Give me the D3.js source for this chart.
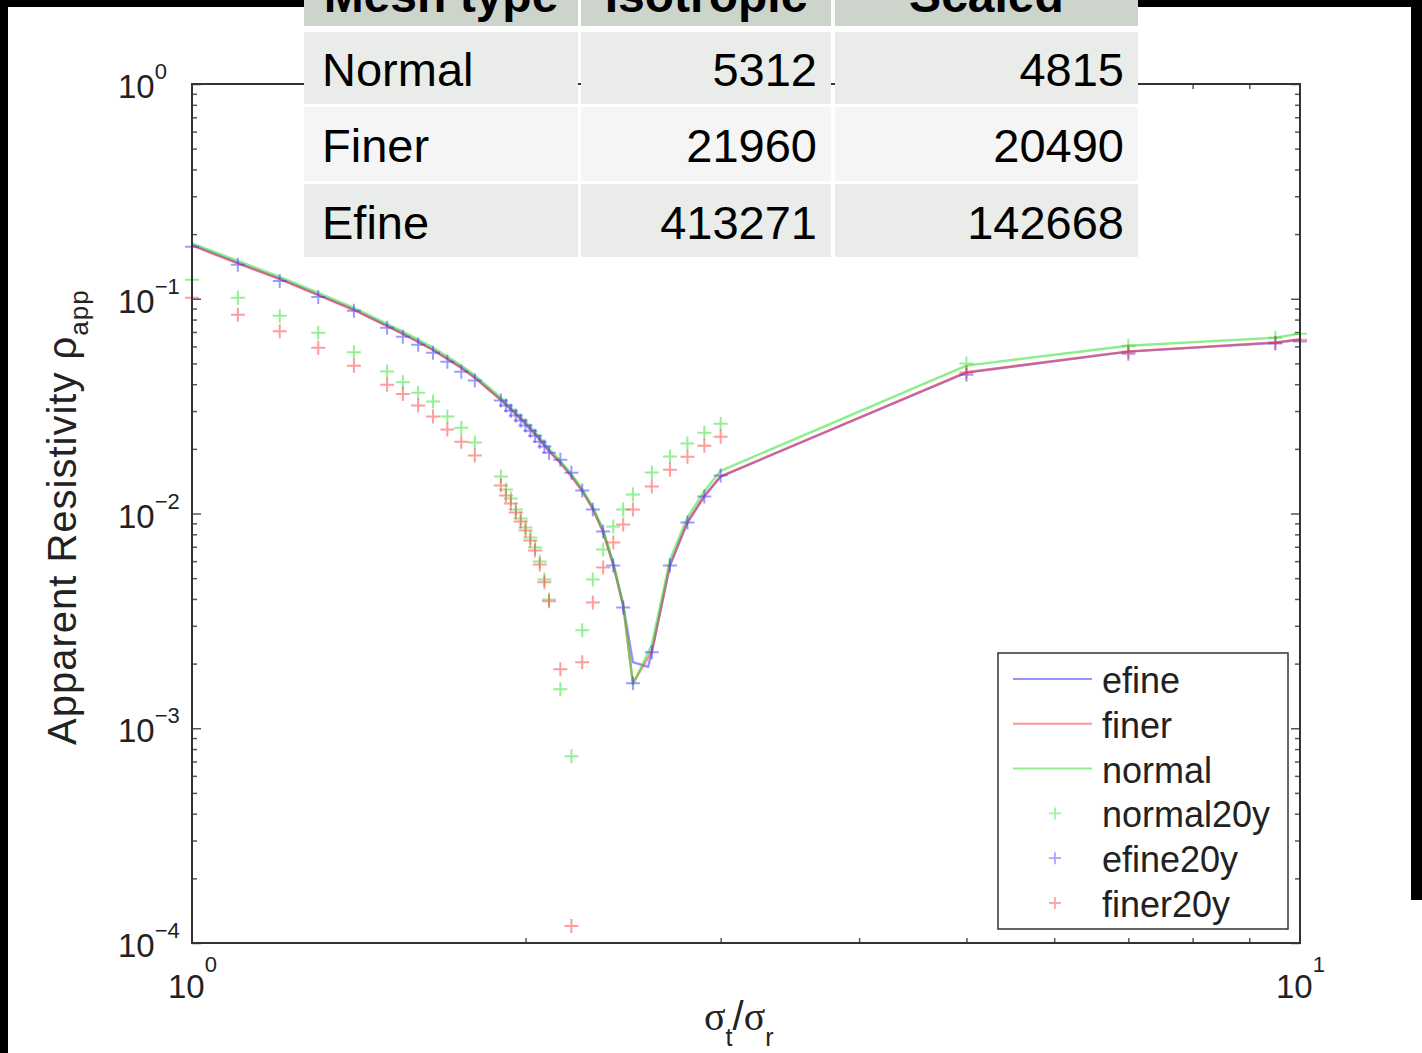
<!DOCTYPE html>
<html><head><meta charset="utf-8">
<script src="https://cdn.jsdelivr.net/npm/d3@7"></script>
<style>html,body{margin:0;padding:0;background:#fff;}svg{display:block;}</style>
</head><body>
<svg id="chart" width="1422" height="1053"></svg>
<script>
// ---- data ----
const xLine = [1.0,1.1,1.2,1.3,1.4,1.5,1.55,1.6,1.65,1.7,1.75,1.8,1.85,1.9,1.95,2.0,2.05,2.1,2.15,2.2,2.25,2.3,2.35,2.4,2.45,2.5,2.6,2.7,2.8,2.9,3.0,5,7,9.5,10];
const xEfineLine = [1.0,1.1,1.2,1.3,1.4,1.5,1.55,1.6,1.65,1.7,1.75,1.8,1.85,1.9,1.95,2.0,2.05,2.1,2.15,2.2,2.25,2.3,2.35,2.4,2.45,2.5,2.58,2.6,2.7,2.8,2.9,3.0,5,7,9.5,10];
const efineLine = [0.178,0.147,0.124,0.1044,0.0889,0.0749,0.0688,0.0631,0.0579,0.0526,0.0478,0.0430,0.0381,0.0339,0.0298,0.0262,0.0228,0.0196,0.0173,0.0150,0.0128,0.01055,0.00824,0.00579,0.00373,0.00203,0.00193,0.00226,0.00573,0.00908,0.0120,0.01486,0.0453,0.0567,0.0624,0.0645];
const finerLine = [0.177,0.146,0.1235,0.104,0.0886,0.0746,0.0685,0.0629,0.0577,0.0524,0.0476,0.0428,0.0380,0.0338,0.0297,0.0261,0.0227,0.0195,0.0172,0.0149,0.0127,0.0105,0.0082,0.00577,0.00372,0.00162,0.00228,0.00578,0.00915,0.0121,0.0149,0.0455,0.0569,0.0626,0.0647];
const normalLine = [0.181,0.150,0.1265,0.1066,0.0908,0.0765,0.0703,0.0645,0.0592,0.0538,0.0489,0.0440,0.0390,0.0346,0.0304,0.0267,0.0233,0.0200,0.0176,0.0153,0.0130,0.01075,0.00840,0.00590,0.00380,0.00160,0.00245,0.00610,0.00960,0.0127,0.0158,0.0488,0.0604,0.0659,0.0688];

const xMark = [1.0,1.1,1.2,1.3,1.4,1.5,1.55,1.6,1.65,1.7,1.75,1.8,1.9,1.92,1.94,1.96,1.98,2.0,2.02,2.04,2.06,2.08,2.1,2.15,2.2,2.25,2.3,2.35,2.4,2.45,2.5,2.6,2.7,2.8,2.9,3.0,5,7,9.5,10];
const normal20y = [0.1226,0.1011,0.0834,0.0695,0.0563,0.0459,0.0409,0.0365,0.0332,0.0283,0.0251,0.0214,0.01486,0.01294,0.01175,0.01044,0.00948,0.00861,0.00773,0.00695,0.00598,0.00493,0.00398,0.00152,0.000741,0.00286,0.00493,0.00680,0.00871,0.01044,0.01226,0.01552,0.01841,0.0212,0.0238,0.0262,0.0499,0.0604,0.0659,0.0688];
const efine20y = [0.1745,0.144,0.121,0.102,0.0879,0.0733,0.0665,0.061,0.0561,0.0509,0.0457,0.0416,0.0336,0.0318,0.0301,0.0286,0.0271,0.0257,0.0243,0.0230,0.0216,0.0205,0.0192,0.0178,0.0155,0.0128,0.01044,0.00824,0.00573,0.00365,0.00162,0.00226,0.00573,0.00908,0.0120,0.01502,0.0443,0.0554,0.0619,0.0633];
const finer20y = [0.1011,0.0843,0.0705,0.0592,0.0488,0.0398,0.0360,0.0318,0.0283,0.0246,0.0216,0.0186,0.01349,0.01213,0.01114,0.01011,0.00918,0.00834,0.00749,0.00673,0.00579,0.00478,0.00390,0.00188,0.000120,0.00203,0.00385,0.00561,0.00733,0.00889,0.01044,0.01336,0.0160,0.0184,0.0207,0.0228,0.0453,0.0567,0.0624,0.0645];

const xTickValues = [1, 10];
const xTickExps = ["0", "1"];
const yTickValues = [1, 0.1, 0.01, 0.001, 0.0001];
const yTickExps = ["0", "\u22121", "\u22122", "\u22123", "\u22124"];

const tableHeader = ["Mesh type", "Isotropic", "Scaled"];
const tableMesh = ["Normal", "Finer", "Efine"];
const tableIsotropic = ["5312", "21960", "413271"];
const tableScaled = ["4815", "20490", "142668"];

const legendLabels = ["efine", "finer", "normal", "normal20y", "efine20y", "finer20y"];

// ---- layout ----
const svg = d3.select("#chart");
const L = 192, R = 1300, T = 84, B = 943;
const x = d3.scaleLog().domain([1, 10]).range([L, R]);
const y = d3.scaleLog().domain([1e-4, 1]).range([B, T]);
const FONT = "'Liberation Sans', Arial, Helvetica, sans-serif";
const BLUE = "#3a3aff", RED = "#ff3a3a", GREEN = "#2ee02e";

svg.append("rect").attr("width", 1422).attr("height", 1053).attr("fill", "#fff");

// ticks
const minorX = x.ticks().filter(v => !xTickValues.includes(v));
const minorY = y.ticks().filter(v => !yTickValues.some(t => Math.abs(t - v) < 1e-12));
function fmtNone() { return ""; }
const axG = svg.append("g").attr("class", "axes");
axG.append("g").attr("transform", `translate(0,${B})`).call(d3.axisBottom(x).tickValues(minorX).tickSize(-5).tickFormat(fmtNone));
axG.append("g").attr("transform", `translate(0,${T})`).call(d3.axisTop(x).tickValues(minorX).tickSize(-5).tickFormat(fmtNone));
axG.append("g").attr("transform", `translate(${L},0)`).call(d3.axisLeft(y).tickValues(minorY).tickSize(-5).tickFormat(fmtNone));
axG.append("g").attr("transform", `translate(${R},0)`).call(d3.axisRight(y).tickValues(minorY).tickSize(-5).tickFormat(fmtNone));
axG.append("g").attr("transform", `translate(${L},0)`).call(d3.axisLeft(y).tickValues(yTickValues).tickSize(-9).tickFormat(fmtNone));
axG.append("g").attr("transform", `translate(${R},0)`).call(d3.axisRight(y).tickValues(yTickValues).tickSize(-9).tickFormat(fmtNone));
axG.selectAll(".domain").remove();
axG.selectAll(".tick line").attr("stroke", "#555").attr("stroke-width", 1.5);

// lines
const lineGen = d3.line().x(d => x(d[0])).y(d => y(d[1]));
const plotG = svg.append("g");
function drawLine(xs, ys, color) {
  plotG.append("path").datum(xs.map((v, i) => [v, ys[i]]))
    .attr("d", lineGen).attr("fill", "none").attr("stroke", color)
    .attr("stroke-width", 2.4).attr("stroke-opacity", 0.55).attr("stroke-linejoin", "round");
}
drawLine(xEfineLine, efineLine, BLUE);
drawLine(xLine, finerLine, RED);
drawLine(xLine, normalLine, GREEN);

const plus = "M-7,0H7M0,-7V7";
function drawMarks(xs, ys, color) {
  plotG.append("g").selectAll("path").data(xs.map((v, i) => [v, ys[i]])).join("path")
    .attr("d", plus).attr("transform", d => `translate(${x(d[0])},${y(d[1])})`)
    .attr("stroke", color).attr("stroke-width", 2).attr("stroke-opacity", 0.5).attr("fill", "none");
}
drawMarks(xMark, normal20y, GREEN);
drawMarks(xMark, efine20y, BLUE);
drawMarks(xMark, finer20y, RED);

// frame
svg.append("rect").attr("x", L).attr("y", T).attr("width", R - L).attr("height", B - T)
  .attr("fill", "none").attr("stroke", "#333").attr("stroke-width", 2);

// tick labels
const yl = svg.append("g").attr("font-family", FONT).attr("fill", "#222");
yTickValues.forEach((v, i) => {
  const t = yl.append("text").attr("x", 118).attr("y", y(v) + 14).attr("font-size", 33).text("10");
  t.append("tspan").attr("dy", -19).attr("font-size", 22).text(yTickExps[i]);
});
xTickValues.forEach((v, i) => {
  const t = yl.append("text").attr("x", x(v) - 24).attr("y", 998).attr("font-size", 33).text("10");
  t.append("tspan").attr("dy", -26).attr("font-size", 22).text(xTickExps[i]);
});

// axis titles
const xt = svg.append("text").attr("x", 704).attr("y", 1030).attr("font-family", FONT).attr("font-size", 40).attr("fill", "#222");
xt.append("tspan").attr("font-family", "'Liberation Serif', serif").text("\u03C3");
xt.append("tspan").attr("font-size", 25).attr("dy", 16).text("t");
xt.append("tspan").attr("dy", -16).text("/");
xt.append("tspan").attr("font-family", "'Liberation Serif', serif").text("\u03C3");
xt.append("tspan").attr("font-size", 25).attr("dy", 16).text("r");

const ytt = svg.append("text").attr("transform", "translate(76,745) rotate(-90)")
  .attr("font-family", FONT).attr("font-size", 40).attr("letter-spacing", 1).attr("fill", "#222");
ytt.append("tspan").text("Apparent Resistivity \u03C1");
ytt.append("tspan").attr("font-size", 26).attr("dy", 12).text("app");

// legend
const lg = svg.append("g").attr("font-family", FONT).attr("font-size", 36).attr("fill", "#222");
lg.append("rect").attr("x", 998).attr("y", 653).attr("width", 290).attr("height", 276)
  .attr("fill", "#fff").attr("stroke", "#333").attr("stroke-width", 1.5);
const legColors = [BLUE, RED, GREEN, GREEN, BLUE, RED];
legendLabels.forEach((lab, i) => {
  const ly = 679 + i * 44.8;
  if (i < 3) {
    lg.append("line").attr("x1", 1013).attr("x2", 1092).attr("y1", ly).attr("y2", ly)
      .attr("stroke", legColors[i]).attr("stroke-width", 2).attr("stroke-opacity", 0.55);
  } else {
    lg.append("path").attr("d", "M-6,0H6M0,-6V6").attr("transform", `translate(1055,${ly})`)
      .attr("stroke", legColors[i]).attr("stroke-width", 1.8).attr("stroke-opacity", 0.45).attr("fill", "none");
  }
  lg.append("text").attr("x", 1102).attr("y", ly + 14).text(lab);
});

// table overlay
const colX = [304, 581, 835], colW = [274, 250, 303];
const rowY = [32, 107, 184], rowH = [72, 74, 73];
const tg = svg.append("g").attr("font-family", FONT).attr("fill", "#000");
colX.forEach((cx, j) => {
  tg.append("rect").attr("x", cx).attr("y", -40).attr("width", colW[j]).attr("height", 66).attr("fill", "#ccd4cc");
  tg.append("text").attr("x", cx + colW[j] / 2).attr("y", 12).attr("text-anchor", "middle")
    .attr("font-size", 48).attr("font-weight", "bold").text(tableHeader[j]);
});
const rowFills = ["#e9ece9", "#f4f5f4", "#e9ece9"];
tableMesh.forEach((m, i) => {
  colX.forEach((cx, j) => {
    tg.append("rect").attr("x", cx).attr("y", rowY[i]).attr("width", colW[j]).attr("height", rowH[i]).attr("fill", rowFills[i]);
  });
  const by = rowY[i] + rowH[i] / 2 + 18;
  tg.append("text").attr("x", 322).attr("y", by).attr("font-size", 47).text(m);
  tg.append("text").attr("x", 817).attr("y", by).attr("font-size", 47).attr("text-anchor", "end").text(tableIsotropic[i]);
  tg.append("text").attr("x", 1124).attr("y", by).attr("font-size", 47).attr("text-anchor", "end").text(tableScaled[i]);
});

// black borders of the photographed slide
svg.append("rect").attr("x", 0).attr("y", 0).attr("width", 304).attr("height", 7).attr("fill", "#000");
svg.append("rect").attr("x", 1138).attr("y", 0).attr("width", 284).attr("height", 7).attr("fill", "#000");
svg.append("rect").attr("x", 0).attr("y", 0).attr("width", 8).attr("height", 1053).attr("fill", "#000");
svg.append("rect").attr("x", 1411).attr("y", 0).attr("width", 11).attr("height", 900).attr("fill", "#000");
</script>
</body></html>
